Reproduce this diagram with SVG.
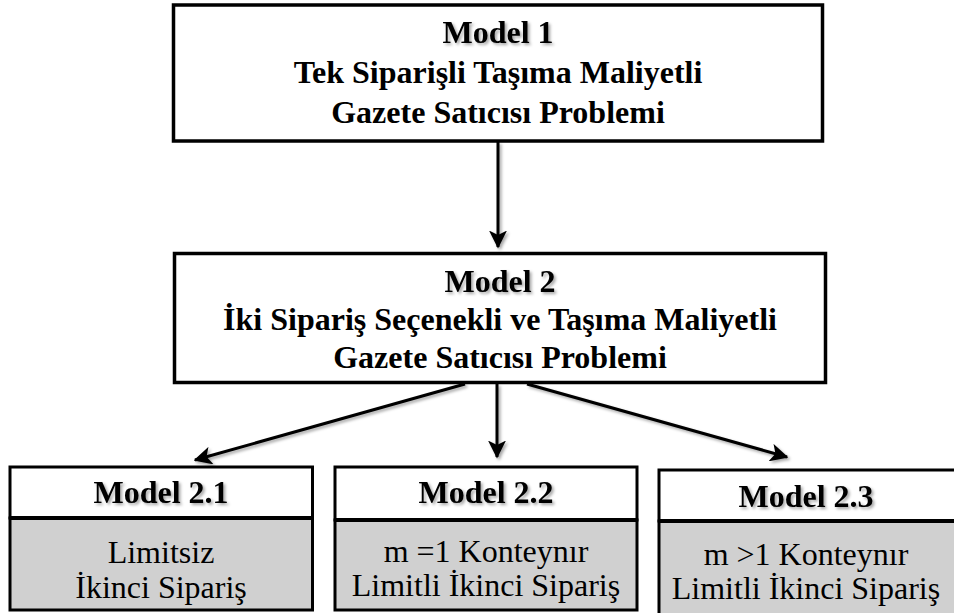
<svg xmlns="http://www.w3.org/2000/svg" width="954" height="613" viewBox="0 0 954 613">
<defs>
<style>
.box{fill:#fff;stroke:#000;stroke-width:3.5}
.hd{fill:#fff;stroke:#000;stroke-width:3}
.gray{fill:#d0d0d0;stroke:#000;stroke-width:3}
.div{stroke:#000;stroke-width:4}
.t{font-family:'Liberation Serif','Times New Roman',serif;font-size:32px;text-anchor:middle;fill:#000}
.b{font-weight:bold}
.sh{filter:url(#shadow)}
.conn line{stroke:#000;stroke-width:3;marker-end:url(#ah)}
</style>
<filter id="shadow" x="-20%" y="-30%" width="140%" height="160%">
<feDropShadow dx="2" dy="2" stdDeviation="1.5" flood-color="#000" flood-opacity="0.35"/>
</filter>
<marker id="ah" viewBox="0 0 12 12" refX="11" refY="6" markerWidth="6" markerHeight="6" orient="auto" markerUnits="strokeWidth">
<path d="M0,0 L12,6 L0,12 L3,6 z" fill="#000"/>
</marker>
</defs>
<g id="model1">
<rect class="box" x="173.5" y="5" width="649" height="136"/>
<text class="t b sh" x="498" y="43">Model 1</text>
<text class="t b" x="498" y="83">Tek Siparişli Taşıma Maliyetli</text>
<text class="t b" x="498" y="123">Gazete Satıcısı Problemi</text>
</g>
<g id="model2">
<rect class="box" x="174.5" y="253.5" width="651" height="129"/>
<text class="t b sh" x="500" y="292">Model 2</text>
<text class="t b" x="500" y="330">İki Sipariş Seçenekli ve Taşıma Maliyetli</text>
<text class="t b" x="500" y="368">Gazete Satıcısı Problemi</text>
</g>
<g id="model21">
<rect class="gray" x="10" y="518" width="302.5" height="92"/>
<rect class="hd" x="10" y="467" width="302.5" height="51"/>
<line class="div" x1="10" y1="518" x2="312.5" y2="518"/>
<text class="t b sh" x="161" y="503">Model 2.1</text>
<text class="t" x="161" y="563">Limitsiz</text>
<text class="t" x="161" y="598">İkinci Sipariş</text>
</g>
<g id="model22">
<rect class="gray" x="335" y="520" width="302" height="90"/>
<rect class="hd" x="335" y="467" width="302" height="53"/>
<line class="div" x1="335" y1="520" x2="637" y2="520"/>
<text class="t b sh" x="486" y="503">Model 2.2</text>
<text class="t" x="486" y="562">m =1 Konteynır</text>
<text class="t" x="486" y="596">Limitli İkinci Sipariş</text>
</g>
<g id="model23">
<rect class="gray" x="659" y="521" width="300" height="100"/>
<rect class="hd" x="659" y="470" width="300" height="51"/>
<line class="div" x1="659" y1="521" x2="959" y2="521"/>
<text class="t b sh" x="806" y="507">Model 2.3</text>
<text class="t" x="806" y="565">m &gt;1 Konteynır</text>
<text class="t" x="806" y="599">Limitli İkinci Sipariş</text>
</g>
<g id="connectors" class="conn sh">
<line x1="498" y1="142" x2="498" y2="247"/>
<line x1="465" y1="384" x2="195" y2="460"/>
<line x1="497" y1="384" x2="497" y2="457"/>
<line x1="527" y1="384" x2="787" y2="457"/>
</g>
</svg>
